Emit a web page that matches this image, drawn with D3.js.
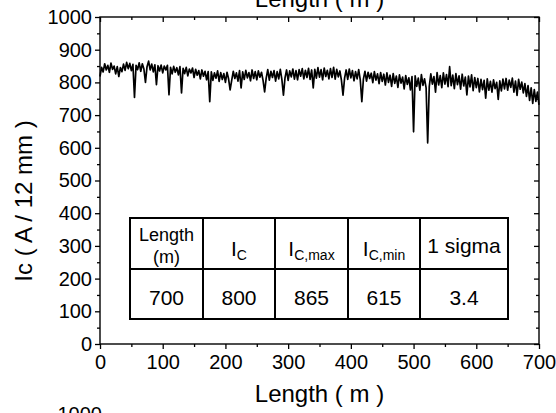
<!DOCTYPE html>
<html>
<head>
<meta charset="utf-8">
<script src="https://cdn.jsdelivr.net/npm/d3@7"></script>
<style>
  html, body { margin: 0; padding: 0; background: #fff; }
  svg { display: block; font-family: Arial, "Liberation Sans", sans-serif; }
</style>
</head>
<body>
<svg id="chart" width="556" height="413"></svg>
<script>
// ---------------- data ----------------
const lengthStart = 0;      // m
const lengthStep = 2.5;     // m, sampling interval of the trace
const icValues = [
  818, 846, 832, 857, 838, 852, 831, 859, 840, 850,
  826, 848, 818, 845, 833, 856, 837, 861, 842, 858,
  836, 855, 754, 852, 839, 860, 834, 857, 841, 800,
  848, 865, 838, 856, 832, 854, 793, 851, 835, 853,
  829, 850, 838, 852, 762, 846, 826, 849, 831, 845,
  823, 848, 768, 843, 827, 846, 820, 841, 829, 844,
  815, 840, 822, 836, 811, 838, 819, 834, 808, 833,
  741, 832, 806, 829, 813, 835, 803, 830, 809, 827,
  800, 831, 811, 777, 806, 834, 812, 829, 804, 836,
  783, 832, 809, 837, 814, 830, 805, 838, 812, 833,
  808, 835, 816, 831, 806, 771, 813, 839, 807, 834,
  815, 836, 804, 833, 811, 840, 809, 761, 814, 838,
  806, 835, 817, 841, 810, 836, 808, 839, 819, 842,
  811, 837, 815, 843, 809, 838, 783, 840, 813, 845,
  816, 839, 808, 844, 818, 837, 811, 842, 815, 846,
  810, 840, 817, 835, 806, 761, 813, 838, 809, 841,
  814, 836, 805, 833, 811, 839, 808, 741, 810, 834,
  804, 831, 812, 828, 799, 833, 807, 826, 796, 830,
  803, 825, 792, 829, 800, 822, 788, 827, 797, 819,
  785, 823, 798, 816, 780, 821, 794, 814, 777, 818,
  649, 820, 788, 813, 776, 824, 791, 811, 783, 615,
  787, 826, 795, 818, 770, 830, 792, 821, 784, 829,
  795, 824, 787, 848, 790, 822, 781, 827, 793, 820,
  779, 825, 789, 816, 762, 819, 786, 823, 775, 815,
  784, 812, 771, 809, 778, 806, 752, 811, 776, 803,
  770, 808, 781, 800, 748, 805, 774, 810, 780, 812,
  776, 807, 785, 813, 770, 804, 760, 809, 779, 801,
  768, 796, 757, 790, 745, 783, 736, 778, 742, 770,
  731
];
const xMajorTicks = [0, 100, 200, 300, 400, 500, 600, 700];
const xMinorTicks = [50, 150, 250, 350, 450, 550, 650];
const yMajorTicks = [0, 100, 200, 300, 400, 500, 600, 700, 800, 900, 1000];
const yMinorTicks = [50, 150, 250, 350, 450, 550, 650, 750, 850, 950];
const xTitle = "Length ( m )";
const yTitle = "Ic ( A / 12 mm )";
const tableHeaders = [
  { lines: ["Length", "(m)"] },
  { main: "I", sub: "C" },
  { main: "I", sub: "C,max" },
  { main: "I", sub: "C,min" },
  { text: "1 sigma" }
];
const tableValues = ["700", "800", "865", "615", "3.4"];
const nextChartTopLabel = "1000";

// ---------------- layout ----------------
const W = 556, H = 413;
const plot = { left: 100, right: 539, top: 17, bottom: 344 };
const tbl = { left: 130, top: 218, mid: 269, bottom: 319, colWidths: [73, 72, 73, 72, 88] };

const svg = d3.select("#chart");
svg.append("rect").attr("width", W).attr("height", H).attr("fill", "#fff");

const x = d3.scaleLinear().domain([0, 700]).range([plot.left, plot.right]);
const y = d3.scaleLinear().domain([0, 1000]).range([plot.bottom, plot.top]);

const points = icValues.map((v, i) => ({ len: lengthStart + i * lengthStep, ic: v }));

// trace
svg.append("path")
  .datum(points)
  .attr("fill", "none")
  .attr("stroke", "#000")
  .attr("stroke-width", 1.7)
  .attr("stroke-linejoin", "round")
  .attr("d", d3.line().x(d => x(d.len)).y(d => y(d.ic)));

// axes helpers
function styleAxis(g, fontSize) {
  g.selectAll(".domain").remove();
  g.selectAll("line").attr("stroke", "#000").attr("stroke-width", 1.3);
  g.selectAll("text").attr("fill", "#000").attr("font-size", fontSize)
    .attr("font-family", "Arial, 'Liberation Sans', sans-serif");
}

// bottom axis
svg.append("g").attr("transform", `translate(0,${plot.bottom})`)
  .call(d3.axisBottom(x).tickValues(xMajorTicks).tickSize(5).tickPadding(6).tickFormat(d3.format("d")))
  .call(g => styleAxis(g, 20));
svg.append("g").attr("transform", `translate(0,${plot.bottom})`)
  .call(d3.axisBottom(x).tickValues(xMinorTicks).tickSize(3).tickFormat(""))
  .call(g => styleAxis(g, 20));
// top axis (inward)
svg.append("g").attr("transform", `translate(0,${plot.top})`)
  .call(d3.axisBottom(x).tickValues(xMajorTicks).tickSize(5).tickFormat(""))
  .call(g => styleAxis(g, 20));
svg.append("g").attr("transform", `translate(0,${plot.top})`)
  .call(d3.axisBottom(x).tickValues(xMinorTicks).tickSize(3).tickFormat(""))
  .call(g => styleAxis(g, 20));
// left axis
svg.append("g").attr("transform", `translate(${plot.left},0)`)
  .call(d3.axisLeft(y).tickValues(yMajorTicks).tickSize(5).tickPadding(3).tickFormat(d3.format("d")))
  .call(g => styleAxis(g, 20));
svg.append("g").attr("transform", `translate(${plot.left},0)`)
  .call(d3.axisLeft(y).tickValues(yMinorTicks).tickSize(3).tickFormat(""))
  .call(g => styleAxis(g, 20));
// right axis (inward)
svg.append("g").attr("transform", `translate(${plot.right},0)`)
  .call(d3.axisLeft(y).tickValues(yMajorTicks).tickSize(5).tickFormat(""))
  .call(g => styleAxis(g, 20));
svg.append("g").attr("transform", `translate(${plot.right},0)`)
  .call(d3.axisLeft(y).tickValues(yMinorTicks).tickSize(3).tickFormat(""))
  .call(g => styleAxis(g, 20));

// frame
svg.append("rect")
  .attr("x", plot.left).attr("y", plot.top)
  .attr("width", plot.right - plot.left).attr("height", plot.bottom - plot.top)
  .attr("fill", "none").attr("stroke", "#000").attr("stroke-width", 1.4);

// titles
const cx = (plot.left + plot.right) / 2;
svg.append("text").attr("x", cx).attr("y", 7).attr("text-anchor", "middle")
  .attr("font-size", 24).attr("fill", "#000").text(xTitle);
svg.append("text").attr("x", cx).attr("y", 402).attr("text-anchor", "middle")
  .attr("font-size", 24).attr("fill", "#000").text(xTitle);
svg.append("text").attr("transform", "translate(32,201) rotate(-90)")
  .attr("text-anchor", "middle").attr("font-size", 24).attr("fill", "#000").text(yTitle);

// partial label of the next chart below
svg.append("text").attr("x", 102).attr("y", 421).attr("text-anchor", "end")
  .attr("font-size", 20).attr("fill", "#000").text(nextChartTopLabel);

// table
const colX = [tbl.left];
tbl.colWidths.forEach(w => colX.push(colX[colX.length - 1] + w));
const tg = svg.append("g");
tg.append("rect").attr("x", tbl.left).attr("y", tbl.top)
  .attr("width", colX[colX.length - 1] - tbl.left).attr("height", tbl.bottom - tbl.top)
  .attr("fill", "#fff").attr("stroke", "#000").attr("stroke-width", 2);
tg.append("line").attr("x1", tbl.left).attr("x2", colX[colX.length - 1])
  .attr("y1", tbl.mid).attr("y2", tbl.mid).attr("stroke", "#000").attr("stroke-width", 2);
colX.slice(1, -1).forEach(cxv => {
  tg.append("line").attr("x1", cxv).attr("x2", cxv).attr("y1", tbl.top).attr("y2", tbl.bottom)
    .attr("stroke", "#000").attr("stroke-width", 2);
});

tableHeaders.forEach((h, i) => {
  const c = (colX[i] + colX[i + 1]) / 2;
  if (h.lines) {
    tg.append("text").attr("x", c).attr("y", 241).attr("text-anchor", "middle")
      .attr("font-size", 18).text(h.lines[0]);
    tg.append("text").attr("x", c).attr("y", 263).attr("text-anchor", "middle")
      .attr("font-size", 18).text(h.lines[1]);
  } else if (h.main) {
    const t = tg.append("text").attr("x", c).attr("y", 256).attr("text-anchor", "middle")
      .attr("font-size", 21);
    t.append("tspan").text(h.main);
    t.append("tspan").attr("font-size", 14).attr("dy", 4).text(h.sub);
  } else {
    tg.append("text").attr("x", c).attr("y", 253).attr("text-anchor", "middle")
      .attr("font-size", 21).text(h.text);
  }
});
tableValues.forEach((v, i) => {
  const c = (colX[i] + colX[i + 1]) / 2;
  tg.append("text").attr("x", c).attr("y", 305).attr("text-anchor", "middle")
    .attr("font-size", 21).text(v);
});
</script>
</body>
</html>
